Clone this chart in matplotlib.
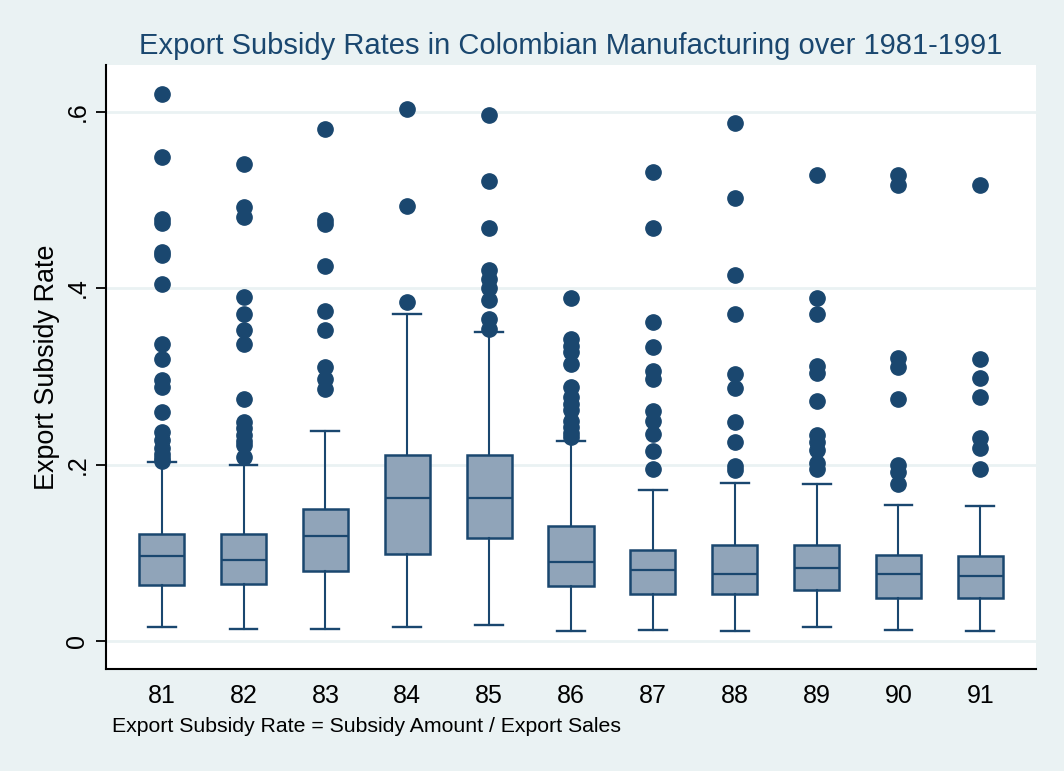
import numpy as np
import matplotlib.pyplot as plt

plt.rcParams['font.family'] = ['Liberation Sans', 'DejaVu Sans']

years = ['81', '82', '83', '84', '85', '86', '87', '88', '89', '90', '91']

# box statistics
q1 = [0.063, 0.065, 0.079, 0.099, 0.117, 0.062, 0.053, 0.053, 0.058, 0.049, 0.049]
med = [0.096, 0.092, 0.119, 0.162, 0.162, 0.089, 0.081, 0.076, 0.083, 0.076, 0.074]
q3 = [0.121, 0.121, 0.150, 0.211, 0.211, 0.130, 0.103, 0.109, 0.109, 0.098, 0.096]
whislo = [0.016, 0.014, 0.014, 0.016, 0.018, 0.011, 0.013, 0.011, 0.016, 0.013, 0.011]
whishi = [0.203, 0.200, 0.238, 0.370, 0.350, 0.227, 0.171, 0.179, 0.178, 0.154, 0.153]

outliers = [
    [0.620, 0.549, 0.478, 0.474, 0.441, 0.437, 0.404, 0.336, 0.320, 0.296, 0.288,
     0.259, 0.237, 0.228, 0.219, 0.212, 0.207, 0.204],
    [0.541, 0.492, 0.481, 0.390, 0.370, 0.352, 0.336, 0.274, 0.248, 0.241, 0.234,
     0.227, 0.222, 0.208],
    [0.580, 0.477, 0.472, 0.425, 0.374, 0.352, 0.310, 0.297, 0.286],
    [0.603, 0.493, 0.384],
    [0.596, 0.521, 0.468, 0.420, 0.410, 0.400, 0.386, 0.365, 0.353],
    [0.389, 0.342, 0.334, 0.327, 0.314, 0.288, 0.277, 0.269, 0.262, 0.249, 0.243,
     0.236, 0.231],
    [0.531, 0.468, 0.361, 0.333, 0.306, 0.297, 0.261, 0.249, 0.235, 0.215, 0.195],
    [0.587, 0.502, 0.415, 0.371, 0.303, 0.287, 0.248, 0.226, 0.198, 0.194],
    [0.528, 0.389, 0.371, 0.312, 0.304, 0.272, 0.234, 0.225, 0.217, 0.202, 0.195],
    [0.528, 0.517, 0.321, 0.310, 0.274, 0.199, 0.191, 0.178],
    [0.517, 0.319, 0.298, 0.276, 0.230, 0.219, 0.195],
]

navy = '#1a476f'
fill = '#90a4b9'
bg = '#eaf2f3'

stats = []
for i in range(len(years)):
    stats.append(dict(q1=q1[i], med=med[i], q3=q3[i], whislo=whislo[i],
                      whishi=whishi[i], fliers=outliers[i], label=years[i]))

fig = plt.figure(figsize=(10.64, 7.71), dpi=100, facecolor=bg)
ax = fig.add_axes([106 / 1064, 1 - 669 / 771, 930 / 1064, 604 / 771])
ax.set_facecolor('white')

pos = np.arange(81, 92)
ax.bxp(stats, positions=pos, widths=0.55, patch_artist=True,
       boxprops=dict(facecolor=fill, edgecolor=navy, linewidth=1.8),
       medianprops=dict(color=navy, linewidth=1.6),
       whiskerprops=dict(color=navy, linewidth=1.5),
       capprops=dict(color=navy, linewidth=1.7), capwidths=0.34,
       flierprops=dict(marker='o', markerfacecolor=navy, markeredgecolor=navy,
                       markersize=11, linestyle='none'))

ax.set_xlim(80.32, 91.68)
ax.set_ylim(-0.0317, 0.6527)
ax.set_yticks([0, 0.2, 0.4, 0.6])
ax.set_yticklabels(['0', '.2', '.4', '.6'], rotation=90, va='center')
ax.set_xticks(pos)
ax.set_xticklabels(years)
ax.tick_params(axis='x', length=0, labelsize=18, pad=11)
ax.tick_params(axis='y', length=7, width=1.3, labelsize=18, pad=5)
ax.grid(axis='y', color=bg, linewidth=2)
ax.set_axisbelow(True)
for s in ['top', 'right']:
    ax.spines[s].set_visible(False)
ax.spines['left'].set_linewidth(1.5)
ax.spines['bottom'].set_linewidth(1.5)

ax.set_ylabel('Export Subsidy Rate', fontsize=19.4)
ax.yaxis.set_label_coords(-0.049, 0.5)
fig.text(0.536, 0.940, 'Export Subsidy Rates in Colombian Manufacturing over 1981-1991',
         ha='center', va='center', fontsize=21, color=navy)
fig.text(112 / 1064, 1 - 727 / 771, 'Export Subsidy Rate = Subsidy Amount / Export Sales',
         ha='left', va='center', fontsize=15.3)

fig.savefig('out.png', dpi=100, facecolor=bg)
